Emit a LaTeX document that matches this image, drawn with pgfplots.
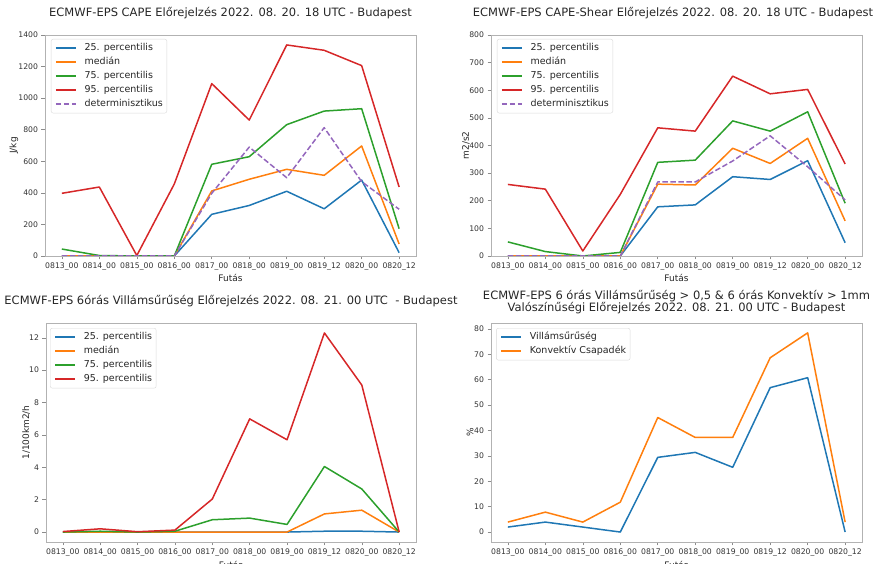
\documentclass[border=0pt]{standalone}
\usepackage{fontspec}
\setmainfont{DejaVu Sans}
\usepackage{pgfplots}
\pgfplotsset{compat=1.18}
\definecolor{tblue}{HTML}{1F77B4}
\definecolor{torange}{HTML}{FF7F0E}
\definecolor{tgreen}{HTML}{2CA02C}
\definecolor{tred}{HTML}{D62728}
\definecolor{tpurple}{HTML}{9467BD}
\pgfplotsset{
  myax/.style={
    scale only axis,
    tick pos=left, tick align=outside, major tick length=3.5pt,
    axis line style={black!30, line width=0.7pt},
    every tick/.style={black!45, line width=0.6pt},
    tick label style={font=\fontsize{7.7}{9}\selectfont, text=black!80},
    label style={font=\fontsize{9}{11}\selectfont, text=black!85},
    xmin=-0.45, xmax=9.45, xtick={0,...,9},
    xticklabels={0813\_00,0814\_00,0815\_00,0816\_00,0817\_00,0818\_00,0819\_00,0819\_12,0820\_00,0820\_12},
    /pgf/number format/assume math mode=true,
    /pgf/number format/1000 sep={},
    title style={font=\fontsize{11.5}{13}\selectfont, text=black!85, at={(0.5,1)}, anchor=south, inner sep=0pt},
    legend cell align=left,
    legend style={font=\fontsize{9.5}{11}\selectfont, text=black!85, draw=black!15, rounded corners=2pt,
      anchor=north west, inner xsep=4pt, inner ysep=4.2pt, row sep=4.5pt, column sep=8pt,
      nodes={inner sep=0pt, text height=7.2pt, text depth=2.3pt}},
    legend image code/.code={\draw[#1] (0pt,0pt) -- (20pt,0pt);},
    every axis plot/.append style={line width=1.5pt, mark=none, line join=round},
  },
  det/.style={tpurple, dash pattern=on 5.5pt off 2.5pt},
}
\begin{document}
\begin{tikzpicture}
\useasboundingbox (0,0) rectangle (873pt,564pt);
% Panel 1
\begin{axis}[myax, at={(45pt,308pt)}, anchor=south west, width=371pt, height=221pt,
  ymin=0, ymax=1400, ytick={0,200,...,1400},
  title={ECMWF-EPS CAPE Előrejelzés 2022. 08. 20. 18 UTC - Budapest},
  title style={yshift=9.5pt},
  xlabel={Futás}, ylabel={J/kg},
  xlabel style={at={(axis description cs:0.5,-0.0995)}, anchor=center},
  ylabel style={at={(axis description cs:-0.0836,0.5)}, anchor=center},
  legend style={at={(axis description cs:0.016,0.982)}}]
\addplot[tblue] coordinates {(0,0)(1,0)(2,0)(3,0)(4,264)(5,320)(6,410)(7,299)(8,481)(9,21)};
\addplot[torange] coordinates {(0,0)(1,0)(2,0)(3,0)(4,412)(5,486)(6,549)(7,511)(8,697)(9,76)};
\addplot[tgreen] coordinates {(0,44)(1,3)(2,0)(3,0)(4,581)(5,629)(6,832)(7,918)(8,933)(9,173)};
\addplot[tred] coordinates {(0,397)(1,437)(2,3)(3,456)(4,1092)(5,861)(6,1337)(7,1303)(8,1206)(9,437)};
\addplot[det] coordinates {(0,0)(1,0)(2,0)(3,0)(4,397)(5,690)(6,496)(7,813)(8,471)(9,296)};
\legend{25. percentilis, medián, 75. percentilis, 95. percentilis, determinisztikus}
\end{axis}
% Panel 2
\begin{axis}[myax, at={(491pt,308pt)}, anchor=south west, width=371pt, height=221pt,
  ymin=0, ymax=800, ytick={0,100,...,800},
  title={ECMWF-EPS CAPE-Shear Előrejelzés 2022. 08. 20. 18 UTC - Budapest},
  title style={yshift=9.5pt, xshift=-3.5pt},
  xlabel={Futás}, ylabel={m2/s2},
  xlabel style={at={(axis description cs:0.5,-0.0995)}, anchor=center},
  ylabel style={at={(axis description cs:-0.0674,0.5)}, anchor=center},
  legend style={at={(axis description cs:0.016,0.982)}}]
\addplot[tblue] coordinates {(0,0)(1,0)(2,0)(3,0)(4,178)(5,185)(6,287)(7,277)(8,345)(9,48)};
\addplot[torange] coordinates {(0,0)(1,0)(2,0)(3,0)(4,260)(5,257)(6,390)(7,335)(8,426)(9,127)};
\addplot[tgreen] coordinates {(0,51)(1,16)(2,0)(3,13)(4,339)(5,347)(6,489)(7,452)(8,522)(9,191)};
\addplot[tred] coordinates {(0,259)(1,242)(2,18)(3,223)(4,464)(5,452)(6,651)(7,587)(8,603)(9,333)};
\addplot[det] coordinates {(0,0)(1,0)(2,0)(3,0)(4,268)(5,268)(6,344)(7,435)(8,323)(9,203)};
\legend{25. percentilis, medián, 75. percentilis, 95. percentilis, determinisztikus}
\end{axis}
% Panel 3
\begin{axis}[myax, at={(46pt,22pt)}, anchor=south west, width=370pt, height=219pt,
  ymin=-0.615, ymax=12.915, ytick={0,2,...,12},
  title={ECMWF-EPS 6órás Villámsűrűség Előrejelzés 2022. 08. 21. 00 UTC~ - Budapest},
  title style={yshift=10.2pt},
  xlabel={Futás}, ylabel={1/100km2/h},
  xlabel style={at={(axis description cs:0.5,-0.105)}, anchor=center},
  ylabel style={at={(axis description cs:-0.054,0.5)}, anchor=center},
  legend style={at={(axis description cs:0.011,0.977)}}]
\addplot[tblue] coordinates {(0,0)(1,0)(2,0)(3,0)(4,0)(5,0)(6,0)(7,0.05)(8,0.05)(9,0)};
\addplot[torange] coordinates {(0,0)(1,0)(2,0)(3,0)(4,0)(5,0)(6,0)(7,1.12)(8,1.35)(9,0)};
\addplot[tgreen] coordinates {(0,0)(1,0.05)(2,0)(3,0.05)(4,0.76)(5,0.86)(6,0.47)(7,4.05)(8,2.66)(9,0)};
\addplot[tred] coordinates {(0,0.03)(1,0.2)(2,0.02)(3,0.12)(4,2.04)(5,6.99)(6,5.7)(7,12.3)(8,9.08)(9,0)};
\legend{25. percentilis, medián, 75. percentilis, 95. percentilis}
\end{axis}
% Panel 4
\begin{axis}[myax, at={(491pt,22pt)}, anchor=south west, width=371pt, height=219pt,
  ymin=-3.92, ymax=82.32, ytick={0,10,...,80},
  title={ECMWF-EPS 6 órás Villámsűrűség > 0,5 \& 6 órás Konvektív > 1mm\\Valószínűségi Előrejelzés 2022. 08. 21. 00 UTC - Budapest},
  title style={align=center, font=\fontsize{11.5}{11.7}\selectfont, yshift=3pt},
  xlabel={Futás}, ylabel={\%},
  xlabel style={at={(axis description cs:0.5,-0.105)}, anchor=center},
  ylabel style={at={(axis description cs:-0.0566,0.5)}, anchor=center},
  legend style={at={(axis description cs:0.014,0.977)}}]
\addplot[tblue] coordinates {(0,1.96)(1,3.92)(2,1.96)(3,0)(4,29.41)(5,31.37)(6,25.49)(7,56.86)(8,60.78)(9,0)};
\addplot[torange] coordinates {(0,3.92)(1,7.84)(2,3.92)(3,11.76)(4,45.1)(5,37.25)(6,37.25)(7,68.63)(8,78.43)(9,3.92)};
\legend{Villámsűrűség, Konvektív Csapadék}
\end{axis}
\end{tikzpicture}
\end{document}
